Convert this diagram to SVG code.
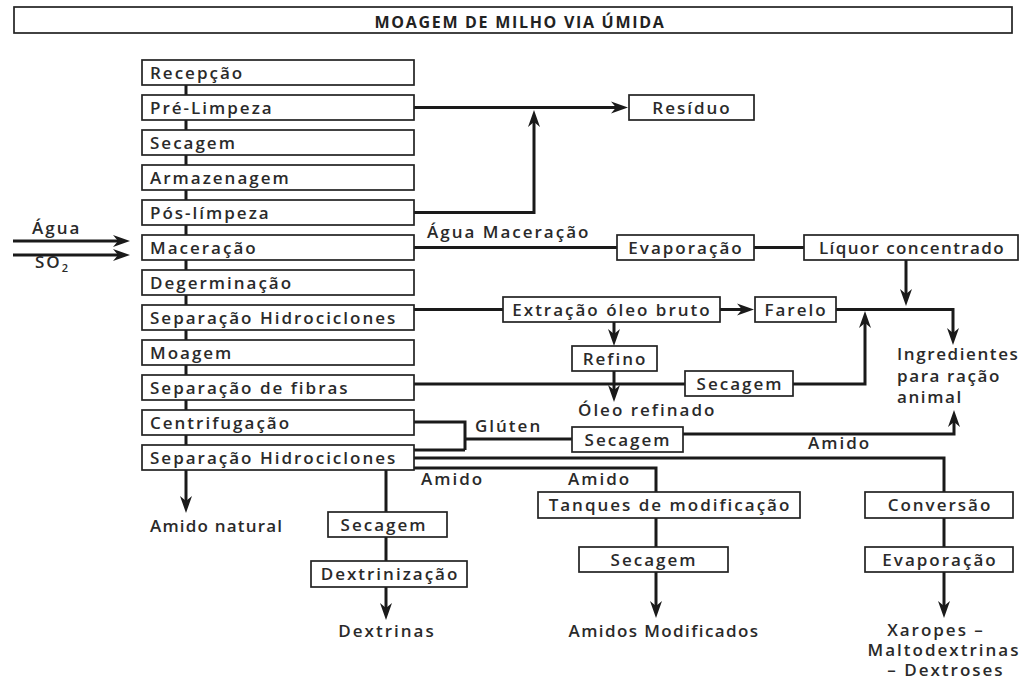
<svg xmlns="http://www.w3.org/2000/svg" width="1024" height="682" viewBox="0 0 1024 682">
<defs>
<style>
.box{fill:#fff;stroke:#222;stroke-width:1.7}
.t{font-family:"Open Sans","Noto Sans",sans-serif;font-size:17px;font-weight:600;letter-spacing:2px;fill:#2a2a2a}
.c{text-anchor:middle}
.ttl{font-family:"Open Sans","Noto Sans",sans-serif;font-size:16px;font-weight:bold;letter-spacing:1.7px;fill:#222;text-anchor:middle}
.ln{stroke:#1a1a1a;stroke-width:3;fill:none}
.ar{marker-end:url(#ah)}
</style>
<marker id="ah" markerUnits="userSpaceOnUse" markerWidth="18" markerHeight="14" viewBox="0 0 18 14" refX="9" refY="7" orient="auto">
<path d="M0,1 L17,7 L0,13 L5,7 z" fill="#1a1a1a"/>
</marker>
</defs>
<rect width="1024" height="682" fill="#fff"/>

<g id="title"><rect class="box" x="14" y="7" width="998" height="26"/><text class="ttl" x="520" y="28">MOAGEM DE MILHO VIA ÚMIDA</text></g>

<g id="connectors">
<path class="ln" d="M186,85V95M186,120V130M186,155V165M186,190V200M186,225V235M186,260V270M186,295V305M186,330V340M186,365V375M186,400V410M186,435V445"/>
<path class="ln ar" d="M414,107.5H620"/>
<path class="ln ar" d="M414,212.5H534V118"/>
<path class="ln ar" d="M13,241H122"/>
<path class="ln ar" d="M13,255H122"/>
<path class="ln" d="M414,247.5H617M754,247.5H804"/>
<path class="ln ar" d="M906,260V298"/>
<path class="ln" d="M414,309.5H503"/>
<path class="ln ar" d="M720,309.5H746"/>
<path class="ln ar" d="M836,309.5H953V337"/>
<path class="ln ar" d="M614,322V338"/>
<path class="ln ar" d="M614,371V394"/>
<path class="ln" d="M414,384H685"/>
<path class="ln ar" d="M793,384H865V319"/>
<path class="ln" d="M414,422H465V450M414,450H465M465,439H572"/>
<path class="ln ar" d="M683,434H954V418"/>
<path class="ln" d="M414,458H944V492M414,468H656V492"/>
<path class="ln" d="M656,518V547M944,518V547"/>
<path class="ln ar" d="M656,572V610"/>
<path class="ln ar" d="M944,572V610"/>
<path class="ln ar" d="M186,470V505"/>
<path class="ln" d="M386,470V512M386,537V561"/>
<path class="ln ar" d="M386,587V612"/>
</g>

<g id="recepcao"><rect class="box" x="142" y="60" width="272" height="25"/><text class="t" x="150" y="78.5">Recepção</text></g>
<g id="pre-limpeza"><rect class="box" x="142" y="95" width="272" height="25"/><text class="t" x="150" y="113.5">Pré-Limpeza</text></g>
<g id="secagem1"><rect class="box" x="142" y="130" width="272" height="25"/><text class="t" x="150" y="148.5">Secagem</text></g>
<g id="armazenagem"><rect class="box" x="142" y="165" width="272" height="25"/><text class="t" x="150" y="183.5">Armazenagem</text></g>
<g id="pos-limpeza"><rect class="box" x="142" y="200" width="272" height="25"/><text class="t" x="150" y="218.5">Pós-límpeza</text></g>
<g id="maceracao"><rect class="box" x="142" y="235" width="272" height="25"/><text class="t" x="150" y="253.5">Maceração</text></g>
<g id="degerminacao"><rect class="box" x="142" y="270" width="272" height="25"/><text class="t" x="150" y="288.5">Degerminação</text></g>
<g id="sep-hidro1"><rect class="box" x="142" y="305" width="272" height="25"/><text class="t" x="150" y="323.5">Separação Hidrociclones</text></g>
<g id="moagem"><rect class="box" x="142" y="340" width="272" height="25"/><text class="t" x="150" y="358.5">Moagem</text></g>
<g id="sep-fibras"><rect class="box" x="142" y="375" width="272" height="25"/><text class="t" x="150" y="393.5">Separação de fibras</text></g>
<g id="centrifugacao"><rect class="box" x="142" y="410" width="272" height="25"/><text class="t" x="150" y="428.5">Centrifugação</text></g>
<g id="sep-hidro2"><rect class="box" x="142" y="445" width="272" height="25"/><text class="t" x="150" y="463.5">Separação Hidrociclones</text></g>

<g id="residuo"><rect class="box" x="629" y="95" width="125" height="25"/><text class="t c" x="692" y="113.5">Resíduo</text></g>
<g id="evaporacao1"><rect class="box" x="617" y="235" width="137" height="25"/><text class="t c" x="686" y="253.5">Evaporação</text></g>
<g id="liquor"><rect class="box" x="804" y="235" width="214" height="25"/><text class="t c" x="912" y="253.5" style="letter-spacing:1.4px">Líquor concentrado</text></g>
<g id="extracao"><rect class="box" x="503" y="297" width="217" height="25"/><text class="t c" x="612" y="315.5">Extração óleo bruto</text></g>
<g id="farelo"><rect class="box" x="755" y="297" width="81" height="25"/><text class="t c" x="796" y="315.5">Farelo</text></g>
<g id="refino"><rect class="box" x="572" y="346" width="85" height="25"/><text class="t c" x="615" y="364.5">Refino</text></g>
<g id="secagem-fibras"><rect class="box" x="685" y="371" width="108" height="25"/><text class="t c" x="740" y="389.5">Secagem</text></g>
<g id="secagem-gluten"><rect class="box" x="572" y="427" width="111" height="25"/><text class="t c" x="628" y="445.5">Secagem</text></g>
<g id="tanques"><rect class="box" x="538" y="492" width="262" height="26"/><text class="t c" x="670" y="511">Tanques de modificação</text></g>
<g id="secagem-mod"><rect class="box" x="579" y="547" width="149" height="25"/><text class="t c" x="654" y="565.5">Secagem</text></g>
<g id="conversao"><rect class="box" x="865" y="492" width="148" height="26"/><text class="t c" x="940" y="511">Conversão</text></g>
<g id="evaporacao2"><rect class="box" x="865" y="547" width="148" height="25"/><text class="t c" x="940" y="565.5">Evaporação</text></g>
<g id="secagem-dex"><rect class="box" x="328" y="512" width="119" height="25"/><text class="t c" x="384" y="530.5">Secagem</text></g>
<g id="dextrinizacao"><rect class="box" x="311" y="561" width="156" height="26"/><text class="t c" x="390" y="580">Dextrinização</text></g>

<g id="labels">
<text class="t" x="32" y="234">Água</text>
<text class="t" x="35" y="268">SO<tspan font-size="11" dy="4">2</tspan></text>
<text class="t" x="427" y="238">Água Maceração</text>
<text class="t" x="578" y="416">Óleo refinado</text>
<text class="t" x="475" y="432">Glúten</text>
<text class="t" x="897" y="360" style="letter-spacing:1.6px"><tspan x="897">Ingredientes</tspan><tspan x="897" dy="22">para ração</tspan><tspan x="897" dy="21">animal</tspan></text>
<text class="t" x="808" y="449">Amido</text>
<text class="t" x="421" y="485">Amido</text>
<text class="t" x="568" y="485">Amido</text>
<text class="t" x="150" y="532" style="letter-spacing:1.2px">Amido natural</text>
<text class="t c" x="387" y="637">Dextrinas</text>
<text class="t c" x="664" y="637" style="letter-spacing:1.4px">Amidos Modificados</text>
<text class="t c" x="936" y="636"><tspan x="936">Xaropes –</tspan><tspan x="944" dy="20">Maltodextrinas</tspan><tspan x="946" dy="20">– Dextroses</tspan></text>
</g>
</svg>
